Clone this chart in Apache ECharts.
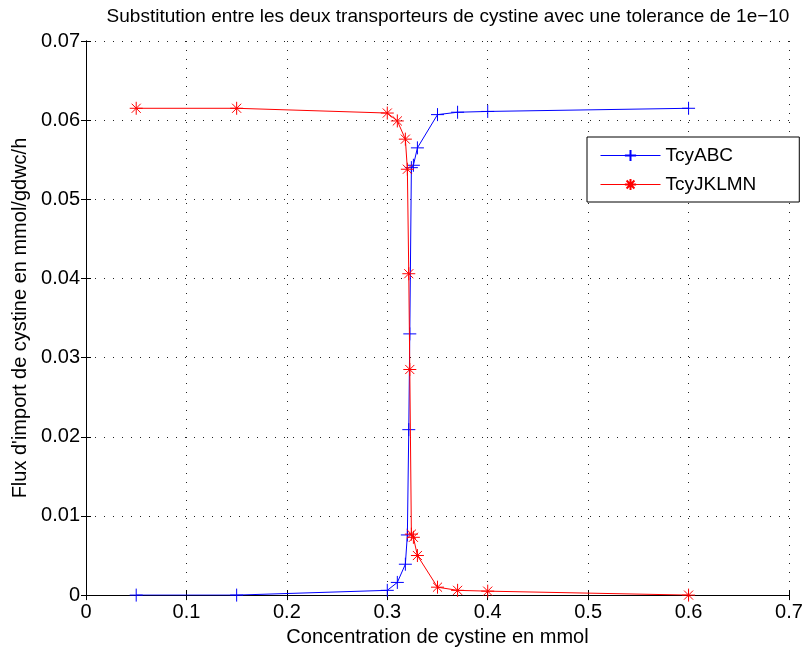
<!DOCTYPE html>
<html>
<head>
<meta charset="utf-8">
<script src="https://cdn.jsdelivr.net/npm/echarts@6/dist/echarts.min.js"></script>
<style>
  html, body { margin: 0; padding: 0; background: #fff; }
  #main { width: 806px; height: 652px; }
</style>
</head>
<body>
<div id="main"></div>
<script>
// concentration de cystine (mmol), shared by both series
var conc = [0.05, 0.15, 0.3, 0.31, 0.318, 0.32, 0.3214, 0.3224, 0.324, 0.326, 0.33, 0.35, 0.37, 0.4, 0.6];
var tcyABC = [0, 0, 0.0006, 0.0016, 0.0039, 0.0076, 0.0209, 0.033, 0.054, 0.0543, 0.0565, 0.0607, 0.061, 0.0611, 0.0615];
var tcyJKLMN = [0.0615, 0.0615, 0.0609, 0.0599, 0.0576, 0.0538, 0.0406, 0.0285, 0.0077, 0.0073, 0.005, 0.001, 0.0006, 0.0005, 0];

function pairs(ys) {
  return conc.map(function (x, i) { return [x, ys[i]]; });
}

var plus = "path://M0,-1L0,1M-1,0L1,0";
var star = "path://M0,-1L0,1M-1,0L1,0M-0.7,-0.7L0.7,0.7M-0.7,0.7L0.7,-0.7";
var font = "Liberation Sans, Arial, sans-serif";

var myChart = echarts.init(document.getElementById("main"));

var grid = { lineStyle: { color: "#222", type: [1, 8], width: 1 } };

var boxAxis = {
  axisLine: { show: true, lineStyle: { color: "#000", width: 1 } },
  axisTick: { show: true, inside: true, length: 5, lineStyle: { color: "#000" } },
  axisLabel: { show: false },
  splitLine: { show: false }
};

var option = {
  animation: false,
  title: {
    text: "Substitution entre les deux transporteurs de cystine avec une tolerance de 1e\u221210",
    left: 443,
    textAlign: "center",
    top: 2,
    textStyle: { fontFamily: font, fontSize: 19, fontWeight: "normal", color: "#000" }
  },
  legend: {
    left: 587,
    top: 137,
    orient: "vertical",
    itemWidth: 60,
    itemHeight: 14,
    itemGap: 10,
    padding: [9, 43, 8, 13],
    borderColor: "#000",
    borderWidth: 1,
    backgroundColor: "#fff",
    lineStyle: { width: 1 },
    textStyle: { fontFamily: font, fontSize: 19, color: "#000" },
    data: ["TcyABC", "TcyJKLMN"]
  },
  grid: { left: 86, right: 17, top: 41, bottom: 54 },
  xAxis: [
    {
      type: "value",
      min: 0, max: 0.7, interval: 0.1,
      name: "Concentration de cystine en mmol",
      nameLocation: "middle",
      nameGap: 26,
      nameTextStyle: { fontFamily: font, fontSize: 20, color: "#000" },
      axisLine: { show: true, lineStyle: { color: "#000" } },
      axisTick: { show: true, inside: true, length: 5, lineStyle: { color: "#000" } },
      axisLabel: { fontFamily: font, fontSize: 20, color: "#000", margin: 7 },
      splitLine: Object.assign({ show: true }, grid)
    },
    Object.assign({ type: "value", position: "top", min: 0, max: 0.7, interval: 0.1 }, boxAxis)
  ],
  yAxis: [
    {
      type: "value",
      min: 0, max: 0.07, interval: 0.01,
      name: "Flux d'import de cystine en mmol/gdwc/h",
      nameLocation: "middle",
      nameGap: 52,
      nameTextStyle: { fontFamily: font, fontSize: 20, color: "#000" },
      axisLine: { show: true, lineStyle: { color: "#000" } },
      axisTick: { show: true, inside: true, length: 5, lineStyle: { color: "#000" } },
      axisLabel: { fontFamily: font, fontSize: 20, color: "#000", margin: 6 },
      splitLine: Object.assign({ show: true }, grid)
    },
    Object.assign({ type: "value", position: "right", min: 0, max: 0.07, interval: 0.01 }, boxAxis)
  ],
  series: [
    {
      name: "TcyABC",
      type: "line",
      data: pairs(tcyABC),
      symbol: plus,
      symbolSize: 13,
      showAllSymbol: true,
      lineStyle: { color: "#0000ff", width: 1 },
      itemStyle: { color: "#0000ff", borderColor: "#0000ff", borderWidth: 1 },
      z: 3
    },
    {
      name: "TcyJKLMN",
      type: "line",
      data: pairs(tcyJKLMN),
      symbol: star,
      symbolSize: 13,
      showAllSymbol: true,
      lineStyle: { color: "#ff0000", width: 1 },
      itemStyle: { color: "#ff0000", borderColor: "#ff0000", borderWidth: 1 },
      z: 4
    }
  ]
};

myChart.setOption(option);
</script>
</body>
</html>
